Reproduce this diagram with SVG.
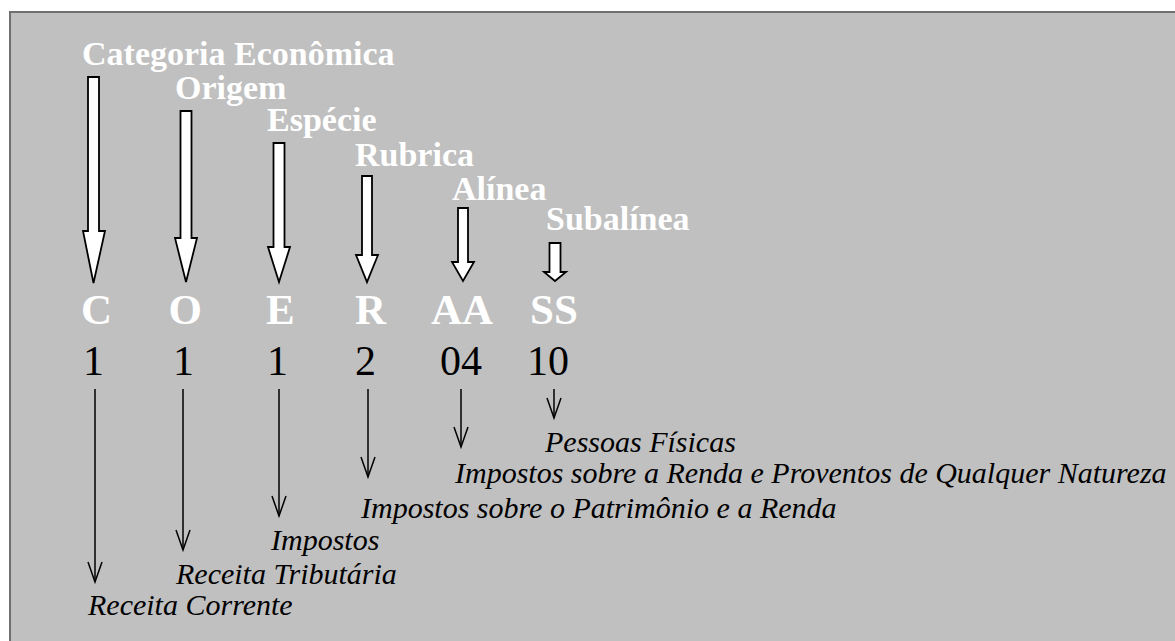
<svg xmlns="http://www.w3.org/2000/svg" width="1175" height="641" viewBox="0 0 1175 641">
<defs>
<style>
.ttl{font-weight:bold;font-size:34px;fill:#ffffff}
.let{font-weight:bold;font-size:43px;fill:#ffffff}
.num{font-size:42px;fill:#000000}
.lab{font-style:italic;font-size:30px;fill:#000000}
.big{fill:#ffffff;stroke:#000000;stroke-width:1.8;stroke-linejoin:miter}
.thin{stroke:#000000;stroke-width:1.5;fill:none}
</style>
<marker id="v" markerUnits="userSpaceOnUse" markerWidth="24" markerHeight="16" refX="21" refY="8" orient="auto" viewBox="0 0 24 16">
<path d="M1,1 L21,8 L1,15" fill="none" stroke="#000" stroke-width="1.5"/>
</marker>
</defs>
<rect x="0" y="0" width="1175" height="641" fill="#ffffff"/>
<rect x="10" y="12" width="1175" height="640" fill="#c0c0c0" stroke="#707070" stroke-width="2"/>

<g id="connectors">
<path class="big" d="M88,77 H99 V231 H105 L93.5,283 L83,231 H88 Z"/>
<path class="big" d="M180.5,111 H191.5 V238 H197 L186,282 L175,238 H180.5 Z"/>
<path class="big" d="M273.5,143 H284.5 V247 H290 L279,282 L268,247 H273.5 Z"/>
<path class="big" d="M362,176 H372 V255 H378 L367,282 L356,255 H362 Z"/>
<path class="big" d="M458,208 H468 V262 H474 L463,281 L452,262 H458 Z"/>
<path class="big" d="M549.5,243 H560.5 V272 H566 L555,281 L544,272 H549.5 Z"/>
<line class="thin" x1="95" y1="389" x2="95" y2="582" marker-end="url(#v)"/>
<line class="thin" x1="183" y1="389" x2="183" y2="550" marker-end="url(#v)"/>
<line class="thin" x1="279" y1="389" x2="279" y2="516" marker-end="url(#v)"/>
<line class="thin" x1="368" y1="389" x2="368" y2="477" marker-end="url(#v)"/>
<line class="thin" x1="461" y1="389" x2="461" y2="447" marker-end="url(#v)"/>
<line class="thin" x1="554" y1="389" x2="554" y2="418" marker-end="url(#v)"/>
</g>

<g font-family="Liberation Serif, Times New Roman, serif">
<g id="categoria">
<text class="ttl" x="82" y="65">Categoria Econômica</text>
<text class="let" x="81" y="324">C</text>
<text class="num" x="83" y="375">1</text>
<text class="lab" x="88" y="615">Receita Corrente</text>
</g>
<g id="origem">
<text class="ttl" x="175" y="99">Origem</text>
<text class="let" x="168.5" y="324">O</text>
<text class="num" x="173" y="375">1</text>
<text class="lab" x="176" y="584">Receita Tributária</text>
</g>
<g id="especie">
<text class="ttl" x="267" y="131">Espécie</text>
<text class="let" x="266" y="324">E</text>
<text class="num" x="267" y="375">1</text>
<text class="lab" x="271" y="550">Impostos</text>
</g>
<g id="rubrica">
<text class="ttl" x="355" y="166">Rubrica</text>
<text class="let" x="355" y="324">R</text>
<text class="num" x="355" y="375">2</text>
<text class="lab" x="361" y="518">Impostos sobre o Patrimônio e a Renda</text>
</g>
<g id="alinea">
<text class="ttl" x="452" y="200">Alínea</text>
<text class="let" x="431" y="324">AA</text>
<text class="num" x="440" y="375">04</text>
<text class="lab" x="455" y="483">Impostos sobre a Renda e Proventos de Qualquer Natureza</text>
</g>
<g id="subalinea">
<text class="ttl" x="546" y="230">Subalínea</text>
<text class="let" x="530" y="324">SS</text>
<text class="num" x="527" y="375">10</text>
<text class="lab" x="545" y="452">Pessoas Físicas</text>
</g>
</g>
</svg>
